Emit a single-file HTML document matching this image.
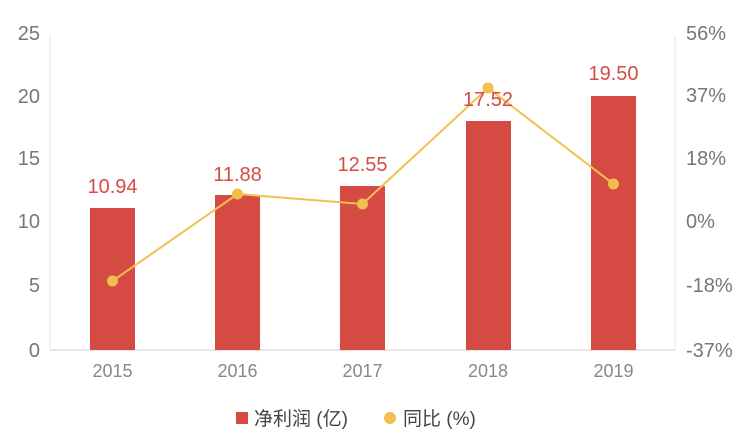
<!DOCTYPE html>
<html><head><meta charset="utf-8"><style>
body{margin:0;background:#fff;}
svg{display:block;font-family:"Liberation Sans","Noto Sans CJK SC",sans-serif;}
</style></head><body>
<svg width="744" height="435" viewBox="0 0 744 435">
<line x1="50" y1="35" x2="50" y2="350" stroke="#e6e6e6" stroke-width="1"/>
<line x1="675" y1="35" x2="675" y2="350" stroke="#e6e6e6" stroke-width="1"/>
<line x1="50" y1="350" x2="675" y2="350" stroke="#e3dcdc" stroke-width="1.5"/>
<g fill="#777" font-size="20" text-anchor="end">
<text x="40" y="40">25</text><text x="40" y="103">20</text><text x="40" y="165">15</text>
<text x="40" y="228">10</text><text x="40" y="292">5</text><text x="40" y="357">0</text>
</g>
<g fill="#777" font-size="20">
<text x="686" y="40">56%</text><text x="686" y="102">37%</text><text x="686" y="165">18%</text>
<text x="686" y="228">0%</text><text x="686" y="292">-18%</text><text x="686" y="357">-37%</text>
</g>
<g fill="#d54b44">
<rect x="90" y="208" width="45" height="142"/>
<rect x="215" y="195" width="45" height="155"/>
<rect x="340" y="186" width="45" height="164"/>
<rect x="466" y="121" width="45" height="229"/>
<rect x="591" y="96" width="45" height="254"/>
</g>
<polyline points="112.5,281 237.5,194 362.5,204 488,88 613.5,184" fill="none" stroke="#f0c050" stroke-width="2"/>
<g fill="#f2be4c">
<circle cx="112.5" cy="281" r="5.5"/><circle cx="237.5" cy="194" r="5.5"/><circle cx="362.5" cy="204" r="5.5"/>
<circle cx="488" cy="88" r="5.5"/><circle cx="613.5" cy="184" r="5.5"/>
</g>
<g fill="#d54b44" font-size="20" text-anchor="middle">
<text x="112.5" y="193">10.94</text><text x="237.5" y="181">11.88</text><text x="362.5" y="171">12.55</text>
<text x="488" y="106">17.52</text><text x="613.5" y="80">19.50</text>
</g>
<g fill="#888" font-size="18" text-anchor="middle">
<text x="112.5" y="377">2015</text><text x="237.5" y="377">2016</text><text x="362.5" y="377">2017</text>
<text x="488" y="377">2018</text><text x="613.5" y="377">2019</text>
</g>
<rect x="236" y="412" width="12" height="12" fill="#d54b44"/>
<text x="254" y="425" font-size="19" fill="#444">净利润 (亿)</text>
<circle cx="390" cy="418" r="6" fill="#f2be4c"/>
<text x="403" y="425" font-size="19" fill="#444">同比 (%)</text>
</svg>
</body></html>
